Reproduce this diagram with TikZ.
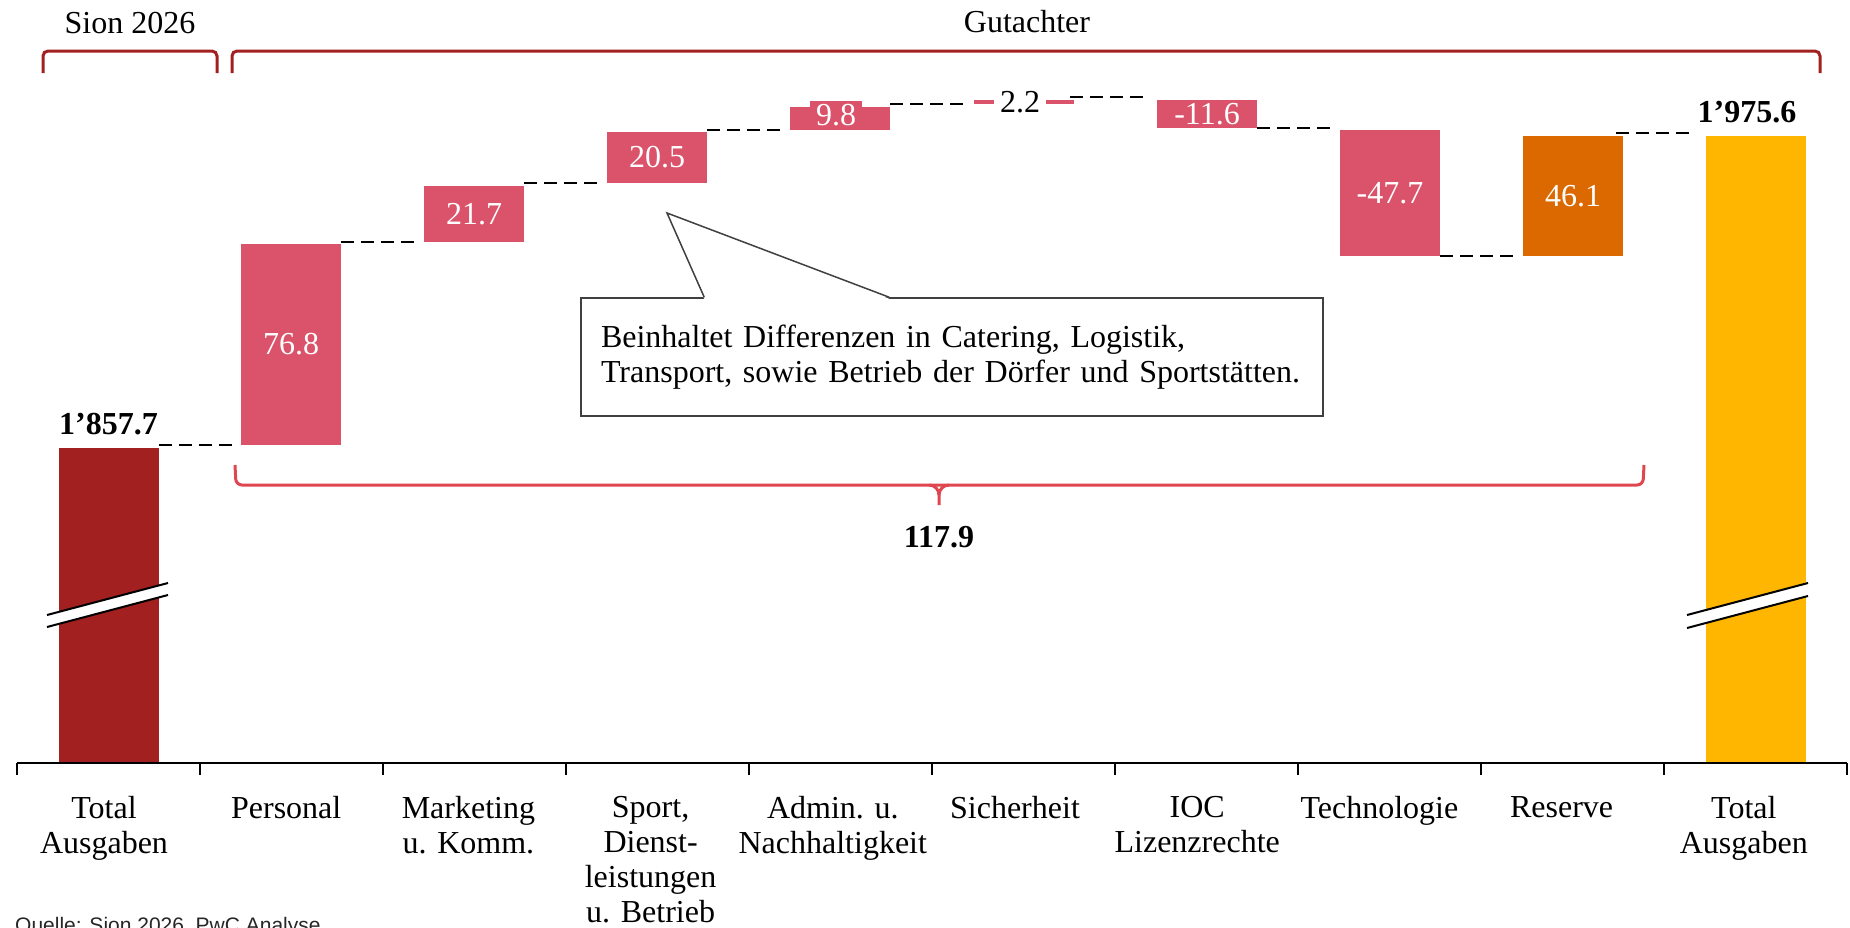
\documentclass[tikz,border=0pt]{standalone}
\usepackage{fontspec}
\setmainfont{Liberation Serif}
\newfontfamily\srcfont{Liberation Sans}
\usetikzlibrary{positioning}
\definecolor{rose}{HTML}{DB536A}
\definecolor{darkred}{HTML}{A32020}
\definecolor{tangerine}{HTML}{DC6900}
\definecolor{gold}{HTML}{FFB600}
\definecolor{bracered}{HTML}{E04650}
\newcommand{\chartfont}{\fontsize{32}{35}\selectfont}

\begin{document}
\begin{tikzpicture}[x=1pt, y=-1pt,
deltabar/.style={rectangle, fill=rose, text=white, minimum width=100pt, inner sep=0pt, font=\chartfont},
linkline/.style={dash pattern=on 13pt off 7pt, line width=2pt},
catlabel/.style={anchor=north, align=center, inner sep=0pt, font=\chartfont},
sumlabel/.style={font=\chartfont\bfseries},
topbrace/.style={draw=darkred, line width=3pt, rounded corners=5pt},
breakmark/.style={line width=2pt},
notebox/.style={rectangle, draw=black!75, fill=white, line width=1.5pt, minimum width=742pt, minimum height=118pt, text width=702pt, inner xsep=20pt, align=left, font=\chartfont},
]
    \useasboundingbox (0,0) rectangle (1850,927);

    \node[anchor=base, font=\chartfont] (sion) at (130,33) {Sion 2026};
    \node[anchor=base, font=\chartfont] (gut) at (1027,32) {Gutachter};
    \draw[topbrace] (43,73) -- (43,51) -- (217,51) -- (217,73);
    \draw[topbrace] (232,73) -- (232,51) -- (1820,51) -- (1820,73);

    \node[deltabar, fill=darkred, minimum height=315pt] (tot1) at (108.5,605.5) {};
    \node[deltabar, minimum height=201pt] (pers) at (291,344.5) {76.8};
    \node[deltabar, minimum height=56pt] (mark) at (474,214) {21.7};
    \node[deltabar, minimum height=51pt] (sport) at (657,157.5) {20.5};
    \node[deltabar, minimum height=23pt] (admin) at (840,118.5) {};
    \node[deltabar, minimum height=4pt] (sicher) at (1024,102) {};
    \node[deltabar, minimum height=28pt] (ioc) at (1207,114) {-11.6};
    \node[deltabar, minimum height=126pt] (tech) at (1390,193) {-47.7};
    \node[deltabar, fill=tangerine, minimum height=120pt] (res) at (1573,196) {46.1};
    \node[deltabar, fill=gold, minimum height=627pt] (tot2) at (1756,449.5) {};

    \node[font=\chartfont, fill=rose, text=white, inner xsep=6pt, inner ysep=4pt] (adminlab) at ([xshift=-4pt,yshift=3pt]admin.center) {9.8};
    \node[font=\chartfont, fill=white, inner xsep=6pt, inner ysep=2pt] (sicherlab) at ([xshift=-4pt]sicher.center) {2.2};

    \node[sumlabel, above=9.7pt of tot1] (start) {1’857.7};
    \node[sumlabel, above=9.7pt of tot2, xshift=-9pt] (end) {1’975.6};

    \draw[linkline, shorten >=4pt] (tot1.east |- pers.south) -- (pers.south west);
    \draw[linkline, shorten >=5pt] (pers.east |- mark.south) -- (mark.south west);
    \draw[linkline, shorten >=5pt] (mark.east |- sport.south) -- (sport.south west);
    \draw[linkline, shorten >=5pt] (sport.east |- admin.south) -- (admin.south west);
    \draw[linkline, shorten >=6pt] (admin.east |- sicher.south) -- (sicher.south west);
    \draw[linkline, shorten >=8pt, shorten <=-4pt] ([yshift=3pt]sicher.north east) -- ([yshift=3pt]ioc.north west);
    \draw[linkline, shorten >=10pt] (ioc.south east) -- (ioc.south east -| tech.west);
    \draw[linkline, shorten >=10pt] (tech.south east) -- (res.south west);
    \draw[linkline, shorten >=10pt, shorten <=-7pt] ([yshift=3pt]res.north east) -- ([yshift=3pt]tot2.north west);

    \fill[white] (47,615) -- (168,583) -- (168,595) -- (47,627) -- cycle;
    \draw[breakmark] (47,615) -- (168,583) (47,627) -- (168,595);
    \fill[white] (1687,615) -- (1808,583) -- (1808,596) -- (1687,628) -- cycle;
    \draw[breakmark] (1687,615) -- (1808,583) (1687,628) -- (1808,596);

    \node[notebox] (note) at (952,357) {Beinhaltet Differenzen in Catering, Logistik,\\Transport, sowie Betrieb der Dörfer und Sportstätten.};
    \coordinate (tip) at (667,213);
    \fill[white] ([xshift=124pt,yshift=-1.5pt]note.north west) -- (tip) -- ([xshift=309pt,yshift=-1.5pt]note.north west) -- cycle;
    \draw[draw=black!75, line width=1.5pt] ([xshift=124pt]note.north west) -- (tip) -- ([xshift=309pt]note.north west);

    \draw[bracered, line width=3pt, rounded corners=6pt] (235,465) -- (236,485) -- (1643,485) -- (1644,465);
    \draw[bracered, line width=3pt] (929,485) to[out=0,in=90] (939,495) -- (939,505);
    \draw[bracered, line width=3pt] (949,485) to[out=180,in=90] (939,495);
    \node[sumlabel, anchor=base] (delta) at (939,547) {117.9};

    \draw[line width=2.5pt] (17,763) -- (1847,763);
    \foreach \i in {0,...,10}
        \draw[line width=2pt] (17+183*\i,763) -- (17+183*\i,775);
    \foreach \lab [count=\i from 0] in {{Total\\Ausgaben}, Personal, {Marketing\\u. Komm.}, {Sport,\\Dienst-\\leistungen\\u. Betrieb}, {Admin. u.\\Nachhaltigkeit}, Sicherheit, {IOC\\Lizenzrechte}, Technologie, Reserve, {Total\\Ausgaben}}
        \node[catlabel] (cat\i) at (104+182.2*\i,796) {\lab};

    \node[anchor=base west, font=\srcfont\fontsize{21}{24}\selectfont, text=black!85, inner sep=0pt] (source) at (15,932) {Quelle: Sion 2026, PwC Analyse};
\end{tikzpicture}
\end{document}
